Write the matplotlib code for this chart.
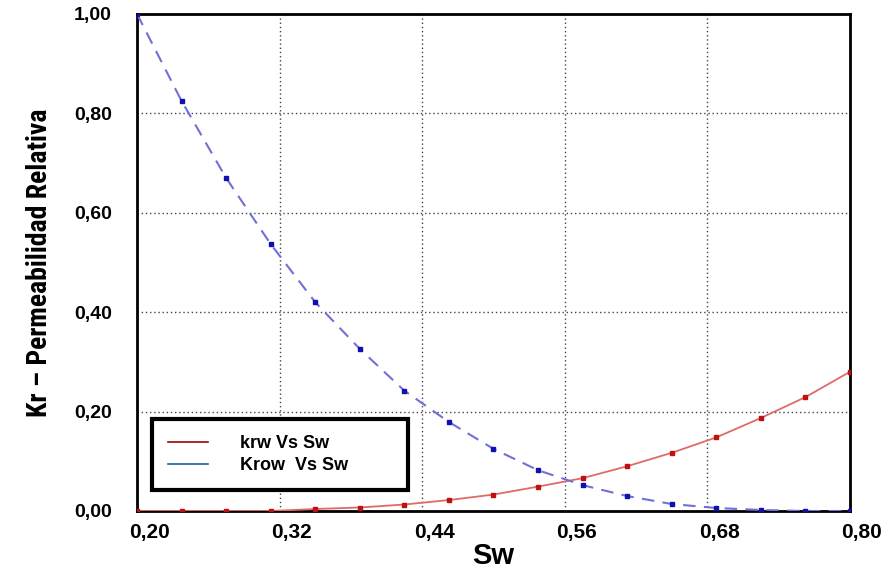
import numpy as np
import matplotlib

matplotlib.use("Agg")
import matplotlib.pyplot as plt
import matplotlib.transforms as mtransforms
from matplotlib import font_manager

# water saturation and relative permeability curves
sw = [0.2000, 0.2375, 0.2750, 0.3125, 0.3500, 0.3875, 0.4250, 0.4625, 0.5000,
      0.5375, 0.5750, 0.6125, 0.6500, 0.6875, 0.7250, 0.7625, 0.8000]
krw = [0.0, 0.0, 0.0, 0.0, 0.004, 0.007, 0.013, 0.022, 0.033,
       0.049, 0.066, 0.090, 0.117, 0.148, 0.187, 0.229, 0.280]
krow = [1.00, 0.825, 0.670, 0.537, 0.420, 0.326, 0.242, 0.179, 0.125,
        0.082, 0.052, 0.030, 0.014, 0.006, 0.002, 0.0, 0.0]

xticks = [0.20, 0.32, 0.44, 0.56, 0.68, 0.80]
xticklabels = ["0,20", "0,32", "0,44", "0,56", "0,68", "0,80"]
yticks = [0.0, 0.2, 0.4, 0.6, 0.8, 1.0]
yticklabels = ["0,00", "0,20", "0,40", "0,60", "0,80", "1,00"]

plt.rcParams["font.family"] = ["Liberation Sans", "DejaVu Sans"]

# condensed face for the y label if one is installed
names = {f.name for f in font_manager.fontManager.ttflist}
narrow = None
for cand in ["Liberation Sans Narrow", "DejaVu Sans Condensed", "Roboto Condensed"]:
    if cand in names:
        narrow = cand
        break

fig = plt.figure(figsize=(8.93, 5.80), dpi=100, facecolor="white")
ax = fig.add_axes([0.1534, 0.119, 0.7984, 0.857])

ax.plot(sw, krw, "-", color="#e06a6a", lw=1.3, zorder=3)
ax.plot(sw, krw, "s", color="#c01010", ms=3.5, zorder=4)
ax.plot(sw, krow, "--", color="#7070d8", lw=1.5, dashes=(6, 4), zorder=3)
ax.plot(sw, krow, "s", color="#1010b0", ms=3.5, zorder=4)

ax.set_xlim(0.2, 0.8)
ax.set_ylim(0.0, 1.0)
ax.set_xticks(xticks)
ax.set_xticklabels(xticklabels, fontsize=15, fontweight="bold")
ax.set_yticks(yticks)
ax.set_yticklabels(yticklabels, fontsize=14, fontweight="bold")
ax.tick_params(length=0, pad=9)
ax.tick_params(axis="y", pad=18)

# x tick labels start at the tick, slightly to the left
offset = mtransforms.ScaledTranslation(-6 / 72, 0, fig.dpi_scale_trans)
for lab in ax.get_xticklabels():
    lab.set_horizontalalignment("left")
    lab.set_transform(lab.get_transform() + offset)

ax.grid(True, color="#444444", ls=(0, (1, 2)), lw=1.0)
for s in ax.spines.values():
    s.set_linewidth(2)
    s.set_color("black")

ax.set_xlabel("Sw", fontsize=21, fontweight="bold", labelpad=0)
if narrow:
    ax.set_ylabel("Kr – Permeabilidad Relativa", fontsize=20, fontweight="bold",
                  family=[narrow, "DejaVu Sans"], labelpad=15)
else:
    ax.set_ylabel("Kr – Permeabilidad Relativa", fontsize=18, fontweight="bold",
                  fontstretch="condensed", labelpad=15)

h1, = ax.plot([], [], "-", color="#a00000", lw=1.2)
h2, = ax.plot([], [], "-", color="#1f5f9f", lw=1.2)
leg = ax.legend([h1, h2], ["krw Vs Sw", "Krow  Vs Sw"], loc="lower left",
                bbox_to_anchor=(0.021, 0.042, 0.359, 0.155), mode="expand",
                fancybox=False, framealpha=1, edgecolor="black",
                prop={"size": 13, "weight": "bold"}, handlelength=2.2,
                handletextpad=1.8, borderpad=0.9, labelspacing=0.25,
                borderaxespad=0)
leg.get_frame().set_linewidth(3)

fig.savefig("out.png", dpi=100, facecolor="white")
